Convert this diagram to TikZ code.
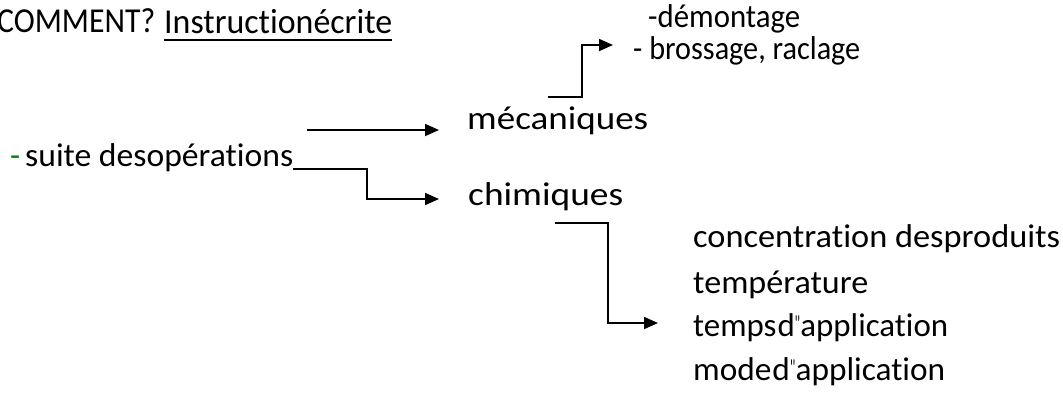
\documentclass[tikz,border=0pt]{standalone}
\usepackage{fontspec}
\setmainfont{Carlito}[Ligatures={NoCommon}]
\usetikzlibrary{arrows.meta}
\definecolor{dashgreen}{RGB}{0,128,0}
% stretch a text horizontally to a given width, keeping its height
\newcommand\fitw[2]{\resizebox{#1}{\height}{#2}}
\newcommand\apos{\raisebox{5pt}{\scalebox{0.4}[0.7]{\textquotesingle\kern-0.8pt\textquotesingle}}}

\begin{document}
\begin{tikzpicture}[x=1pt,y=-1pt,
  lbl/.style={anchor=base west, inner sep=0pt, font=\fontsize{33}{38}\selectfont},
  ttl/.style={lbl, font=\fontsize{35}{40}\selectfont},
  conn/.style={line width=1.8pt},
  arr/.style={conn,-{Triangle[length=14pt,width=12pt]}}]
\useasboundingbox (0,0) rectangle (1063,397);

% heading
\node[ttl] (how) at (-3,32) {\fitw{158pt}{COMMENT?}};
\node[ttl] (instr) at (164,33) {\fitw{228pt}{Instructionécrite}};
\draw[line width=2.2pt] ([yshift=-7pt]instr.base west) -- ([yshift=-7pt]instr.base east);

% mechanical operations
\node[lbl] (demo) at (648,27) {\fitw{152pt}{-démontage}};
\node[lbl] (bross) at (633,59) {\fitw{227pt}{- brossage, raclage}};
\node[lbl] (meca) at (467,129) {\fitw{181pt}{mécaniques}};

% sequence of operations
\node[lbl, text=dashgreen] (dash) at (10,166) {-};
\node[lbl] (suite) at (25,166) {\fitw{268pt}{suite desopérations}};
\node[lbl] (chim) at (468,205) {\fitw{155pt}{chimiques}};

% chemical parameters
\node[lbl] (conc) at (693,247) {\fitw{367pt}{concentration desproduits}};
\node[lbl] (temp) at (693,293) {\fitw{175pt}{température}};
\node[lbl] (tapp) at (693,336) {\fitw{255pt}{temps\kern1pt d\apos application}};
\node[lbl] (mapp) at (693,380) {\fitw{252pt}{mode\kern1pt d\apos application}};

% connectors
\coordinate (m0) at (307,130);
\coordinate (m1) at (439,130);
\draw[arr] (m0) -- (m1);

\coordinate (u0) at (548,97);
\coordinate (u1) at (582,97);
\coordinate (u2) at (582,45);
\coordinate (u3) at (613,45);
\draw[arr] (u0) -- (u1) -- (u2) -- (u3);

\coordinate (s0) at ([yshift=-3pt]suite.base east);
\coordinate (s1) at (367,169);
\coordinate (s2) at (367,199);
\coordinate (s3) at (439,199);
\draw[arr] (s0) -- (s1) -- (s2) -- (s3);

\coordinate (c0) at (555,223);
\coordinate (c1) at (608,223);
\coordinate (c2) at (608,323);
\coordinate (c3) at (658,323);
\draw[arr] (c0) -- (c1) -- (c2) -- (c3);
\end{tikzpicture}
\end{document}
